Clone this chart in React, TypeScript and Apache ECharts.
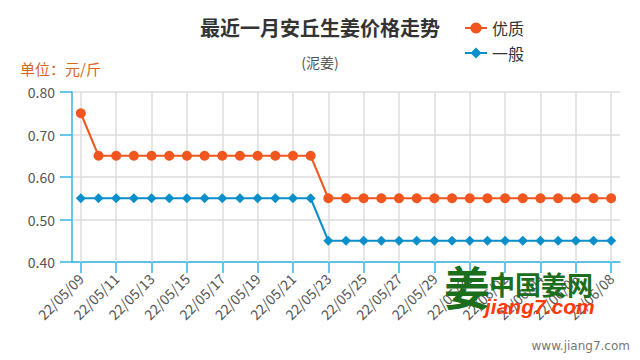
import React, { useEffect, useRef } from "react";
import * as echarts from "echarts";

const categories = [
  "22/05/09", "22/05/10", "22/05/11", "22/05/12", "22/05/13", "22/05/14", "22/05/15", "22/05/16",
  "22/05/17", "22/05/18", "22/05/19", "22/05/20", "22/05/21", "22/05/22", "22/05/23", "22/05/24",
  "22/05/25", "22/05/26", "22/05/27", "22/05/28", "22/05/29", "22/05/30", "22/05/31", "22/06/01",
  "22/06/02", "22/06/03", "22/06/04", "22/06/05", "22/06/06", "22/06/07", "22/06/08",
];

const premium = [
  0.75, 0.65, 0.65, 0.65, 0.65, 0.65, 0.65, 0.65, 0.65, 0.65, 0.65, 0.65, 0.65, 0.65,
  0.55, 0.55, 0.55, 0.55, 0.55, 0.55, 0.55, 0.55, 0.55, 0.55, 0.55, 0.55, 0.55, 0.55, 0.55, 0.55, 0.55,
];

const ordinary = [
  0.55, 0.55, 0.55, 0.55, 0.55, 0.55, 0.55, 0.55, 0.55, 0.55, 0.55, 0.55, 0.55, 0.55,
  0.45, 0.45, 0.45, 0.45, 0.45, 0.45, 0.45, 0.45, 0.45, 0.45, 0.45, 0.45, 0.45, 0.45, 0.45, 0.45, 0.45,
];

const gridDates = categories.filter((_, i) => i % 2 === 0);

const ORANGE = "#f0561d";
const BLUE = "#0a8fcb";
const AXIS = "#35b5e5";
const FONT = "'Noto Sans CJK SC', 'Noto Sans', sans-serif";

export default function App() {
  const ref = useRef<HTMLDivElement>(null);
  useEffect(() => {
    if (!ref.current) return;
    const chart = echarts.init(ref.current, null, { renderer: "svg" });
    chart.setOption({
      animation: false,
      backgroundColor: "#fff",
      textStyle: { fontFamily: FONT },
      title: {
        text: "最近一月安丘生姜价格走势",
        subtext: "(泥姜)",
        left: "center",
        top: 12,
        itemGap: 18,
        textStyle: { fontSize: 20, fontWeight: "bold", color: "#333", fontFamily: FONT },
        subtextStyle: { fontSize: 14, color: "#555", fontFamily: FONT },
      },
      legend: {
        orient: "vertical",
        left: 459,
        top: 15,
        itemWidth: 22,
        itemHeight: 14,
        itemGap: 9,
        textStyle: { fontSize: 16, color: "#333", fontFamily: FONT },
        data: ["优质", "一般"],
      },
      grid: { left: 72, right: 20, top: 92, bottom: 98, containLabel: false },
      xAxis: {
        type: "category",
        data: categories,
        boundaryGap: true,
        axisLine: { show: true, lineStyle: { color: AXIS, width: 1.5 } },
        axisTick: { show: true, alignWithLabel: true, interval: 1, length: 11, lineStyle: { color: AXIS, width: 1.5 } },
        axisLabel: { interval: 1, rotate: 45, fontSize: 14, color: "#555", margin: 14 },
        splitLine: { show: false },
      },
      yAxis: {
        type: "value",
        min: 0.4,
        max: 0.8,
        interval: 0.1,
        axisLine: { show: true, lineStyle: { color: AXIS, width: 1.5 } },
        axisTick: { show: true, length: 12, lineStyle: { color: AXIS, width: 1.5 } },
        axisLabel: { fontSize: 14, color: "#555", margin: 17, formatter: (v: number) => v.toFixed(2) },
        splitLine: { show: true, lineStyle: { color: "#dcdcdc", width: 1.5 } },
      },
      graphic: [
        { type: "text", left: 20, top: 61, style: { text: "单位：元/斤", fontSize: 15, fill: "#d8651e", fontFamily: FONT } },
        { type: "text", left: 444, top: 262, z: 100, style: { text: "姜", fontSize: 46, fontWeight: "bold", fill: "#1b6e1b", fontFamily: FONT } },
        { type: "text", left: 489, top: 270, z: 100, style: { text: "中国姜网", fontSize: 26, fontWeight: "bold", fill: "#1b6e1b", fontFamily: FONT } },
        { type: "text", left: 485, top: 296, z: 100, style: { text: "jiang7.com", fontSize: 21, fontWeight: "bold", fontStyle: "italic", fill: "#ff3a0a", fontFamily: "'Liberation Sans', Arial, sans-serif" } },
        { type: "text", right: 10, top: 340, style: { text: "www.jiang7.com", fontSize: 12, fill: "#777", fontFamily: "'DejaVu Sans', sans-serif" } },
      ],
      series: [
        {
          name: "grid",
          type: "line",
          data: [],
          z: 1,
          silent: true,
          markLine: {
            silent: true,
            z: 1,
            symbol: ["none", "none"],
            label: { show: false },
            lineStyle: { color: "#dcdcdc", width: 1.5, type: "solid" },
            data: gridDates.map((d) => ({ xAxis: d })),
          },
        },
        {
          name: "优质",
          type: "line",
          data: premium,
          z: 3,
          symbol: "circle",
          symbolSize: 10,
          itemStyle: { color: ORANGE },
          lineStyle: { color: ORANGE, width: 2 },
        },
        {
          name: "一般",
          type: "line",
          data: ordinary,
          z: 3,
          symbol: "diamond",
          symbolSize: 10,
          itemStyle: { color: BLUE },
          lineStyle: { color: BLUE, width: 2 },
        },
      ],
    });
    return () => chart.dispose();
  }, []);
  return <div ref={ref} style={{ position: "fixed", left: 0, top: 0, width: 640, height: 360 }} />;
}
